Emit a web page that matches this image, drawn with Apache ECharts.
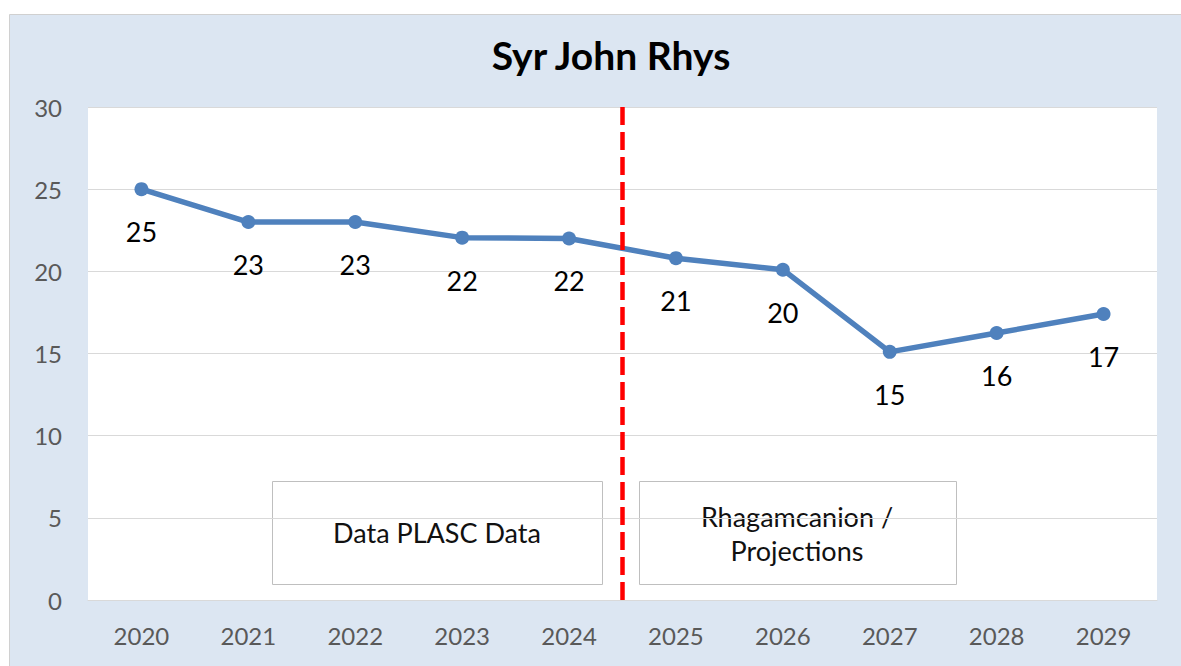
<!DOCTYPE html>
<html>
<head>
<meta charset="utf-8">
<script src="https://cdn.jsdelivr.net/npm/echarts@6/dist/echarts.min.js"></script>
<style>
  html, body { margin: 0; padding: 0; background: #ffffff; }
  #main { width: 1181px; height: 666px; }
</style>
</head>
<body>
<div id="main"></div>
<script>
var years = ['2020', '2021', '2022', '2023', '2024', '2025', '2026', '2027', '2028', '2029'];
var pupils = [25, 23, 23, 22.05, 22, 20.8, 20.1, 15.1, 16.25, 17.4];
var pupilLabels = ['25', '23', '23', '22', '22', '21', '20', '15', '16', '17'];
var yTicks = [0, 5, 10, 15, 20, 25, 30];
// where the actual data ends and the projections start (between 2024 and 2025)
var splitAt = 4.5;

var myChart = echarts.init(document.getElementById('main'), null, { renderer: 'svg' });

var font = 'Lato, "Open Sans", sans-serif';

var option = {
    backgroundColor: '#ffffff',
    animation: false,
    title: {
        text: 'Syr John Rhys',
        left: 606,
        top: 30,
        textAlign: 'center',
        textStyle: { fontFamily: font, fontSize: 39, fontWeight: 'bold', color: '#000000' }
    },
    graphic: [
        {
            type: 'rect', z: -10, silent: true,
            shape: { x: 9.5, y: 14.5, width: 1190, height: 670 },
            style: { fill: '#dce6f2', stroke: '#d0d0d0', lineWidth: 1 }
        },
        {
            type: 'group', z: 100,
            children: [
                { type: 'rect', shape: { x: 272.5, y: 481.5, width: 330, height: 103 },
                  style: { fill: '#ffffff', stroke: '#bfbfbf', lineWidth: 1 } },
                { type: 'text', x: 437, y: 532,
                  style: { text: 'Data PLASC Data', fontSize: 27, fontFamily: font, fill: '#111111',
                           align: 'center', verticalAlign: 'middle' } },
                { type: 'rect', shape: { x: 639.5, y: 481.5, width: 317, height: 103 },
                  style: { fill: '#ffffff', stroke: '#bfbfbf', lineWidth: 1 } },
                { type: 'text', x: 797, y: 516,
                  style: { text: 'Rhagamcanion /', fontSize: 27, fontFamily: font, fill: '#111111',
                           align: 'center', verticalAlign: 'middle' } },
                { type: 'text', x: 797, y: 550,
                  style: { text: 'Projections', fontSize: 27, fontFamily: font, fill: '#111111',
                           align: 'center', verticalAlign: 'middle' } }
            ]
        }
    ],
    grid: {
        left: 88, top: 107, width: 1069, height: 493,
        show: true, backgroundColor: '#ffffff', borderWidth: 0
    },
    xAxis: [
        {
            type: 'category',
            data: years,
            boundaryGap: true,
            axisLine: { show: true, lineStyle: { color: '#d9d9d9' } },
            axisTick: { show: false },
            axisLabel: { color: '#595959', fontSize: 24, fontFamily: font, margin: 23 }
        },
        {
            type: 'value', min: -0.5, max: 9.5, show: false
        }
    ],
    yAxis: {
        type: 'value',
        min: yTicks[0],
        max: yTicks[yTicks.length - 1],
        interval: 5,
        axisLine: { show: false },
        axisTick: { show: false },
        splitLine: { lineStyle: { color: '#d9d9d9', width: 1 } },
        axisLabel: { color: '#595959', fontSize: 24, fontFamily: font, margin: 26 }
    },
    series: [
        {
            name: 'Disgyblion',
            type: 'line',
            data: pupils,
            symbol: 'circle',
            symbolSize: 14,
            lineStyle: { color: '#4f81bd', width: 5.5 },
            itemStyle: { color: '#4f81bd' },
            label: {
                show: true,
                position: 'bottom',
                distance: 22,
                color: '#000000',
                fontSize: 27,
                fontFamily: font,
                formatter: function (p) { return pupilLabels[p.dataIndex]; }
            },
            z: 5
        },
        {
            name: 'split',
            type: 'line',
            xAxisIndex: 1,
            data: [[splitAt, 0], [splitAt, 30.2]],
            symbol: 'none',
            clip: false,
            lineStyle: { color: '#ff0000', width: 4.5, type: [18, 7] },
            silent: true,
            z: 50
        }
    ]
};

myChart.setOption(option);
</script>
</body>
</html>
